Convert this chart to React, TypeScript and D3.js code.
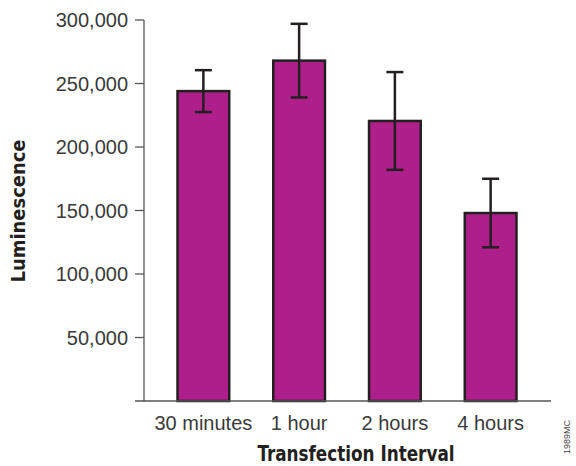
import * as d3 from 'd3';
import React from 'react';

// values (mean and half error bar)
const intervals = ['30 minutes', '1 hour', '2 hours', '4 hours'];
const luminescence = [244000, 268000, 220500, 148000];
const errors = [16500, 29000, 38500, 27000];
const yTicks = [50000, 100000, 150000, 200000, 250000, 300000];

const W = 576;
const H = 466;

function App() {
    const x = d3.scaleBand<string>()
        .domain(intervals)
        .range([144, 550])
        .paddingInner(0.46)
        .paddingOuter(0.35);

    const y = d3.scaleLinear()
        .domain([0, 300000])
        .range([401, 20]);

    const fmt = d3.format(',');
    const textColor = '#3a3a3a';
    const axisColor = '#555';
    const tickFont = '"Liberation Sans", Arial, Helvetica, sans-serif';
    const titleFont = '"Liberation Sans Narrow", "DejaVu Sans Condensed", "Liberation Sans", sans-serif';
    const capW = 8.5;

    return (
        <svg width={W} height={H} style={{ position: 'absolute', left: 0, top: 0, background: '#fff' }}>
            {/* y axis */}
            <line x1={144} x2={144} y1={y(300000)} y2={y(0)} stroke={axisColor} strokeWidth={1.3} />
            {yTicks.map(t => (
                <g key={t}>
                    <line x1={135} x2={144} y1={y(t)} y2={y(t)} stroke={axisColor} strokeWidth={1.3} />
                    <text x={128} y={y(t)} dy="0.36em" textAnchor="end"
                        fontFamily={tickFont} fontSize={20} fill={textColor}>{fmt(t)}</text>
                </g>
            ))}

            {/* bars */}
            {intervals.map((c, i) => (
                <rect key={c}
                    x={x(c)!}
                    y={y(luminescence[i])}
                    width={x.bandwidth()}
                    height={y(0) - y(luminescence[i])}
                    fill="#AF1F8C"
                    stroke="#231F20"
                    strokeWidth={2.5} />
            ))}

            {/* error bars */}
            {intervals.map((c, i) => {
                const cx = x(c)! + x.bandwidth() / 2;
                const hi = y(luminescence[i] + errors[i]);
                const lo = y(luminescence[i] - errors[i]);
                return (
                    <g key={c} stroke="#231F20" strokeWidth={2.5}>
                        <line x1={cx} x2={cx} y1={hi} y2={lo} />
                        <line x1={cx - capW} x2={cx + capW} y1={hi} y2={hi} />
                        <line x1={cx - capW} x2={cx + capW} y1={lo} y2={lo} />
                    </g>
                );
            })}

            {/* x axis */}
            <line x1={135} x2={551} y1={y(0)} y2={y(0)} stroke={axisColor} strokeWidth={1.3} />
            {intervals.map(c => (
                <text key={c} x={x(c)! + x.bandwidth() / 2} y={430} textAnchor="middle"
                    fontFamily={tickFont} fontSize={20} fill={textColor}>{c}</text>
            ))}

            {/* axis titles */}
            <text x={356} y={461} textAnchor="middle" fontFamily={titleFont} fontWeight="bold"
                fontSize={21} fill="#231F20" textLength={197} lengthAdjust="spacingAndGlyphs">
                Transfection Interval
            </text>
            <text transform="translate(25,211) rotate(-90)" textAnchor="middle" fontFamily={titleFont}
                fontWeight="bold" fontSize={20} fill="#231F20" textLength={143} lengthAdjust="spacingAndGlyphs">
                Luminescence
            </text>

            <text transform="translate(570,437) rotate(-90)" textAnchor="middle" fontFamily={tickFont}
                fontSize={9} fill="#444">1989MC</text>
        </svg>
    );
}

export default App;
